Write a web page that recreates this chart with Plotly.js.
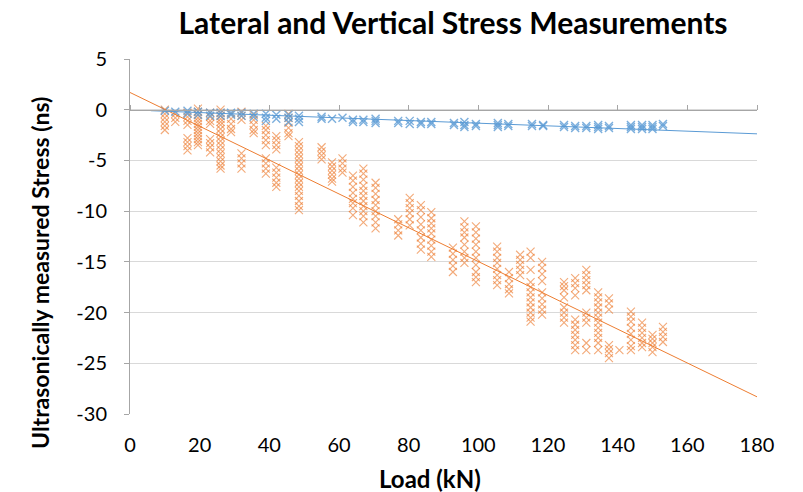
<!DOCTYPE html>
<html>
<head>
<meta charset="utf-8">
<script src="https://cdn.plot.ly/plotly-3.0.1.min.js"></script>
<style>html,body{margin:0;padding:0;background:#fff;}#chart{width:803px;height:492px;}</style>
</head>
<body>
<div id="chart"></div>
<script>
// ---- Data ----
// Vertical (orange) series: load per column and the stress values measured at that load
var verticalLoads = [10, 13, 16.5, 19.5, 23, 26, 29, 32, 35.5, 39, 42, 45.5, 48.5, 55, 58, 61, 64, 67, 70.5, 77,
  80.3, 83.5, 86.5, 92.7, 96, 99.3, 105.4, 108.8, 112, 115, 118.3, 124.6, 127.8, 131, 134.4, 137.5, 140.5, 143.8, 147, 150, 153];
var verticalStress = [
  [0, -0.4, -0.8, -1.2, -1.6, -2.0],
  [-0.4, -0.8, -1.2],
  [-0.3, -0.7, -1.1, -1.5, -2.8, -3.2, -3.6, -4.0],
  [0.1, -0.2, -0.5, -0.8, -1.1, -1.4, -1.7, -2.0, -2.3, -2.6, -2.9, -3.2, -3.5],
  [-0.3, -0.7, -1.1, -1.4, -2.9, -3.3, -3.7, -4.2],
  [0, -0.3, -0.6, -0.9, -1.2, -1.5, -1.9, -2.3, -2.7, -3.1, -3.5, -3.9, -4.3, -4.7, -5.1, -5.5, -5.8],
  [-0.4, -0.9, -1.4, -1.9, -2.2],
  [-0.2, -0.6, -1.0, -4.3, -4.8, -5.3, -5.8],
  [-0.5, -1.0, -1.5, -2.0, -2.3],
  [-1.6, -2.0, -2.5, -3.0, -3.5, -4.8, -5.3, -5.8, -6.3],
  [-2.6, -3.0, -3.5, -3.9, -5.7, -6.2, -6.7, -7.2, -7.6],
  [-0.4, -0.8, -1.3, -1.8, -2.3, -2.6],
  [-3.2, -3.6, -4.0, -4.4, -4.8, -5.2, -5.6, -6.0, -6.4, -6.8, -7.2, -7.6, -8.0, -8.5, -9.0, -9.5, -9.9],
  [-3.7, -4.1, -4.5, -4.9],
  [-5.2, -5.6, -6.0, -6.4, -6.8, -7.1],
  [-4.8, -5.3, -5.8, -6.2],
  [-6.5, -7.0, -7.6, -8.2, -8.8, -9.2, -9.7, -10.4],
  [-5.8, -6.3, -6.9, -7.5, -8.0, -8.5, -9.0, -9.5, -10.0, -10.5, -11.1],
  [-7.2, -7.7, -8.3, -8.9, -9.4, -10.0, -10.5, -11.1, -11.7],
  [-10.8, -11.3, -11.9, -12.4],
  [-8.7, -9.2, -9.7, -10.2, -10.8, -11.4],
  [-9.4, -9.9, -10.6, -11.3, -11.9, -12.6, -13.2, -13.8],
  [-10.1, -10.7, -11.2, -11.7, -12.2, -12.8, -13.4, -14.0, -14.5],
  [-13.6, -14.2, -14.8, -15.4, -16.0],
  [-11.0, -11.6, -12.1, -12.6, -13.3, -14.0, -14.6, -15.1],
  [-11.5, -12.1, -12.7, -13.3, -14.0, -14.6, -15.3, -16.0, -16.5, -17.0],
  [-13.5, -14.0, -14.6, -15.1, -15.7, -16.3, -16.8, -17.3],
  [-16.0, -16.6, -17.2, -17.7, -18.1],
  [-14.3, -14.8, -15.3, -15.8, -16.3],
  [-14.0, -14.6, -15.8, -17.0, -17.5, -18.0, -18.5, -19.0, -19.5, -20.0, -20.5, -20.9],
  [-15.0, -15.6, -16.2, -16.9, -18.0, -18.6, -19.2, -19.7, -20.2],
  [-17.0, -17.4, -17.8, -18.5, -19.5, -20.0, -20.5, -21.0],
  [-16.6, -17.1, -17.6, -18.3, -20.7, -21.2, -21.7, -22.2, -22.7, -23.2, -23.7],
  [-15.8, -16.3, -16.8, -17.3, -17.8, -20.0, -20.5, -21.0, -23.0, -23.7],
  [-18.0, -18.5, -19.0, -19.5, -20.0, -20.5, -21.0, -21.5, -22.0, -22.5, -23.0, -23.7],
  [-18.6, -19.1, -19.7, -23.2, -23.6, -24.0, -24.5],
  [-23.7],
  [-19.9, -20.4, -20.9, -21.5, -22.1, -22.7, -23.3, -23.7],
  [-21.0, -21.5, -22.0, -22.5, -23.0, -23.4],
  [-22.2, -22.6, -23.0, -23.4, -23.9],
  [-21.4, -21.9, -22.4, -22.9]
];

// Lateral (blue) series
var lateralLoads = [10, 13, 16.5, 19.5, 23, 26, 29, 32, 35.5, 39, 42, 45.5, 48.5, 55, 58, 61, 64, 67, 70.5, 77,
  80.3, 83.5, 86.5, 93, 96, 99.3, 105.6, 108.6, 115.4, 118.6, 124.6, 127.8, 131, 134.4, 137.5, 143.8, 147, 150, 153];
var lateralStress = [
  [-0.1], [-0.2], [-0.1, -0.4], [-0.2, -0.5], [-0.3, -0.6], [-0.3, -0.6], [-0.3, -0.5], [-0.3, -0.6],
  [-0.4, -0.7], [-0.4, -0.8, -1.1], [-0.5, -0.9], [-0.5, -0.8, -1.2], [-0.6, -0.9, -1.2],
  [-0.7, -0.9], [-0.9], [-0.8], [-1.0, -1.2], [-1.0, -1.2], [-0.9, -1.1, -1.3], [-1.1, -1.3],
  [-1.1, -1.4], [-1.2, -1.4], [-1.2, -1.4], [-1.3, -1.5], [-1.2, -1.5, -1.7], [-1.4, -1.6],
  [-1.3, -1.5, -1.7], [-1.4, -1.6], [-1.4, -1.6], [-1.5, -1.6], [-1.5, -1.7], [-1.6, -1.8],
  [-1.6, -1.8], [-1.5, -1.7, -1.9], [-1.6, -1.8], [-1.5, -1.7, -1.9], [-1.5, -1.7, -1.9],
  [-1.5, -1.7, -1.9], [-1.4, -1.6]
];

// Linear trendlines: [start load, end load], slope, intercept
var verticalTrendRange = [0, 180];
var verticalTrendSlope = -0.1667;
var verticalTrendIntercept = 1.7;
var lateralTrendRange = [6, 180];
var lateralTrendSlope = -0.0131;
var lateralTrendIntercept = -0.02;

// Axis ticks
var xTicks = [0, 20, 40, 60, 80, 100, 120, 140, 160, 180];
var yTicks = [5, 0, -5, -10, -15, -20, -25, -30];

// Text
var chartTitle = 'Lateral and Vertical Stress Measurements';
var xTitle = 'Load (kN)';
var yTitle = 'Ultrasonically measured Stress (ns)';

// ---- Build traces ----
function flatten(loads, stress) {
  var xs = [], ys = [];
  for (var i = 0; i < loads.length; i++) {
    for (var j = 0; j < stress[i].length; j++) { xs.push(loads[i]); ys.push(stress[i][j]); }
  }
  return {x: xs, y: ys};
}
function trend(range, slope, intercept) {
  return {x: range.slice(), y: range.map(function (v) { return slope * v + intercept; })};
}
var V = flatten(verticalLoads, verticalStress);
var L = flatten(lateralLoads, lateralStress);
var VT = trend(verticalTrendRange, verticalTrendSlope, verticalTrendIntercept);
var LT = trend(lateralTrendRange, lateralTrendSlope, lateralTrendIntercept);

var ORANGE = '#ED7D31', BLUE = '#5B9BD5';
var FONT = 'Lato, "Open Sans", "DejaVu Sans", sans-serif';

var traces = [
  {x: V.x, y: V.y, type: 'scatter', mode: 'markers', name: 'Vertical',
   marker: {symbol: 'x-thin-open', size: 8, color: ORANGE, opacity: 0.65, line: {color: ORANGE, width: 1.1}}},
  {x: L.x, y: L.y, type: 'scatter', mode: 'markers', name: 'Lateral',
   marker: {symbol: 'x-thin-open', size: 8, color: BLUE, opacity: 0.8, line: {color: BLUE, width: 1.4}}},
  {x: VT.x, y: VT.y, type: 'scatter', mode: 'lines', name: 'Vertical trend', line: {color: ORANGE, width: 1}},
  {x: LT.x, y: LT.y, type: 'scatter', mode: 'lines', name: 'Lateral trend', xaxis: 'x2', line: {color: BLUE, width: 1}}
];

var layout = {
  width: 803, height: 492,
  margin: {l: 130, r: 46, t: 59, b: 78},
  paper_bgcolor: '#ffffff', plot_bgcolor: '#ffffff',
  showlegend: false,
  font: {family: FONT, size: 20, color: '#000000'},
  title: {text: '<b>' + chartTitle + '</b>', font: {family: FONT, size: 30, color: '#000'},
          x: 453 / 803, xanchor: 'center', y: 1 - 23 / 492, yanchor: 'middle'},
  xaxis: {range: [0, 180], tickvals: xTicks, ticktext: xTicks.map(String),
          showgrid: false, zeroline: false, showline: false, ticks: '',
          ticklabelstandoff: 17, tickfont: {family: FONT, size: 20, color: '#000'}},
  xaxis2: {range: [0, 180], overlaying: 'x', anchor: 'free', side: 'top', position: 30 / 35,
           tickvals: xTicks, showticklabels: false, showgrid: false, zeroline: false,
           showline: true, linecolor: '#a6a6a6', linewidth: 1, ticks: 'outside', ticklen: 5, tickcolor: '#a6a6a6'},
  yaxis: {range: [-30, 5], tickvals: yTicks, ticktext: yTicks.map(String),
          showgrid: true, gridcolor: '#d9d9d9', gridwidth: 1, zeroline: false,
          showline: true, linecolor: '#a6a6a6', linewidth: 1, ticks: 'outside', ticklen: 5, tickcolor: '#a6a6a6',
          ticklabelstandoff: 13, tickfont: {family: FONT, size: 20, color: '#000'}},
  annotations: [
    {text: '<b>' + xTitle + '</b>', xref: 'paper', yref: 'paper', x: (430 - 130) / 627, y: -(478 - 414) / 355,
     xanchor: 'center', yanchor: 'middle', showarrow: false, font: {family: FONT, size: 24, color: '#000'}},
    {text: '<b>' + yTitle + '</b>', xref: 'paper', yref: 'paper', x: (40 - 130) / 627, y: (414 - 273) / 355,
     xanchor: 'center', yanchor: 'middle', textangle: -90, showarrow: false, font: {family: FONT, size: 23, color: '#000'}}
  ]
};

Plotly.newPlot('chart', traces, layout, {displayModeBar: false, staticPlot: true});
</script>
</body>
</html>
